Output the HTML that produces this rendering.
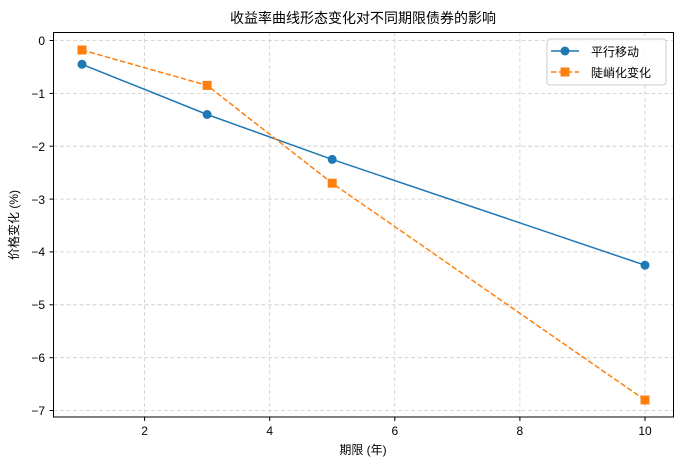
<!DOCTYPE html><html><head><meta charset="utf-8"><style>body{margin:0;background:#fff}svg{display:block}text{font-family:"Liberation Sans","Noto Sans CJK SC",sans-serif;fill:#000}</style></head><body>
<svg width="682" height="468" viewBox="0 0 682 468">
<g stroke="#ccc" stroke-width="0.8" stroke-dasharray="4,2.5" fill="none">
<line x1="144.6" y1="32.5" x2="144.6" y2="417"/><line x1="269.7" y1="32.5" x2="269.7" y2="417"/><line x1="394.8" y1="32.5" x2="394.8" y2="417"/><line x1="519.9" y1="32.5" x2="519.9" y2="417"/><line x1="645" y1="32.5" x2="645" y2="417"/>
<line x1="53.5" y1="40.5" x2="673.5" y2="40.5"/><line x1="53.5" y1="93.4" x2="673.5" y2="93.4"/><line x1="53.5" y1="146.2" x2="673.5" y2="146.2"/><line x1="53.5" y1="199.1" x2="673.5" y2="199.1"/><line x1="53.5" y1="251.9" x2="673.5" y2="251.9"/><line x1="53.5" y1="304.8" x2="673.5" y2="304.8"/><line x1="53.5" y1="357.7" x2="673.5" y2="357.7"/><line x1="53.5" y1="410.5" x2="673.5" y2="410.5"/>
</g>
<polyline points="82,64.3 207.1,114.5 332.2,159.4 645,265.2" fill="none" stroke="#1f77b4" stroke-width="1.5"/>
<g fill="#1f77b4"><circle cx="82" cy="64.3" r="4.5"/><circle cx="207.1" cy="114.5" r="4.5"/><circle cx="332.2" cy="159.4" r="4.5"/><circle cx="645" cy="265.2" r="4.5"/></g>
<polyline points="82,50 207.1,85.4 332.2,183.2 645,400" fill="none" stroke="#ff7f0e" stroke-width="1.5" stroke-dasharray="5.5,2.4"/>
<g fill="#ff7f0e"><rect x="77.5" y="45.5" width="9" height="9"/><rect x="202.6" y="80.9" width="9" height="9"/><rect x="327.7" y="178.7" width="9" height="9"/><rect x="640.5" y="395.5" width="9" height="9"/></g>
<rect x="53.5" y="32.5" width="620" height="384.5" fill="none" stroke="#000" stroke-width="1"/>
<g stroke="#000" stroke-width="1">
<line x1="144.6" y1="417" x2="144.6" y2="421"/><line x1="269.7" y1="417" x2="269.7" y2="421"/><line x1="394.8" y1="417" x2="394.8" y2="421"/><line x1="519.9" y1="417" x2="519.9" y2="421"/><line x1="645" y1="417" x2="645" y2="421"/>
<line x1="49.5" y1="40.5" x2="53.5" y2="40.5"/><line x1="49.5" y1="93.4" x2="53.5" y2="93.4"/><line x1="49.5" y1="146.2" x2="53.5" y2="146.2"/><line x1="49.5" y1="199.1" x2="53.5" y2="199.1"/><line x1="49.5" y1="251.9" x2="53.5" y2="251.9"/><line x1="49.5" y1="304.8" x2="53.5" y2="304.8"/><line x1="49.5" y1="357.7" x2="53.5" y2="357.7"/><line x1="49.5" y1="410.5" x2="53.5" y2="410.5"/>
</g>
<g font-size="12" text-anchor="middle"><text x="144.6" y="435">2</text><text x="269.7" y="435">4</text><text x="394.8" y="435">6</text><text x="519.9" y="435">8</text><text x="645" y="435">10</text></g>
<g font-size="12" text-anchor="end"><text x="45" y="45">0</text><text x="45" y="98">−1</text><text x="45" y="151">−2</text><text x="45" y="204">−3</text><text x="45" y="256">−4</text><text x="45" y="309">−5</text><text x="45" y="362">−6</text><text x="45" y="415">−7</text></g>
<text x="363" y="454" font-size="12" text-anchor="middle">期限 (年)</text>
<text transform="translate(18,225) rotate(-90)" font-size="12" text-anchor="middle">价格变化 (%)</text>
<text x="363" y="23" font-size="14" text-anchor="middle">收益率曲线形态变化对不同期限债券的影响</text>
<rect x="547" y="39" width="119" height="46" rx="3" fill="#fff" fill-opacity="0.8" stroke="#ccc"/>
<line x1="551" y1="51" x2="579" y2="51" stroke="#1f77b4" stroke-width="1.5"/><circle cx="565" cy="51" r="4.5" fill="#1f77b4"/>
<line x1="551" y1="72" x2="579" y2="72" stroke="#ff7f0e" stroke-width="1.5" stroke-dasharray="5.5,2.4"/><rect x="560.5" y="67.5" width="9" height="9" fill="#ff7f0e"/>
<text x="591" y="56" font-size="12">平行移动</text><text x="591" y="77" font-size="12">陡峭化变化</text>
</svg></body></html>
